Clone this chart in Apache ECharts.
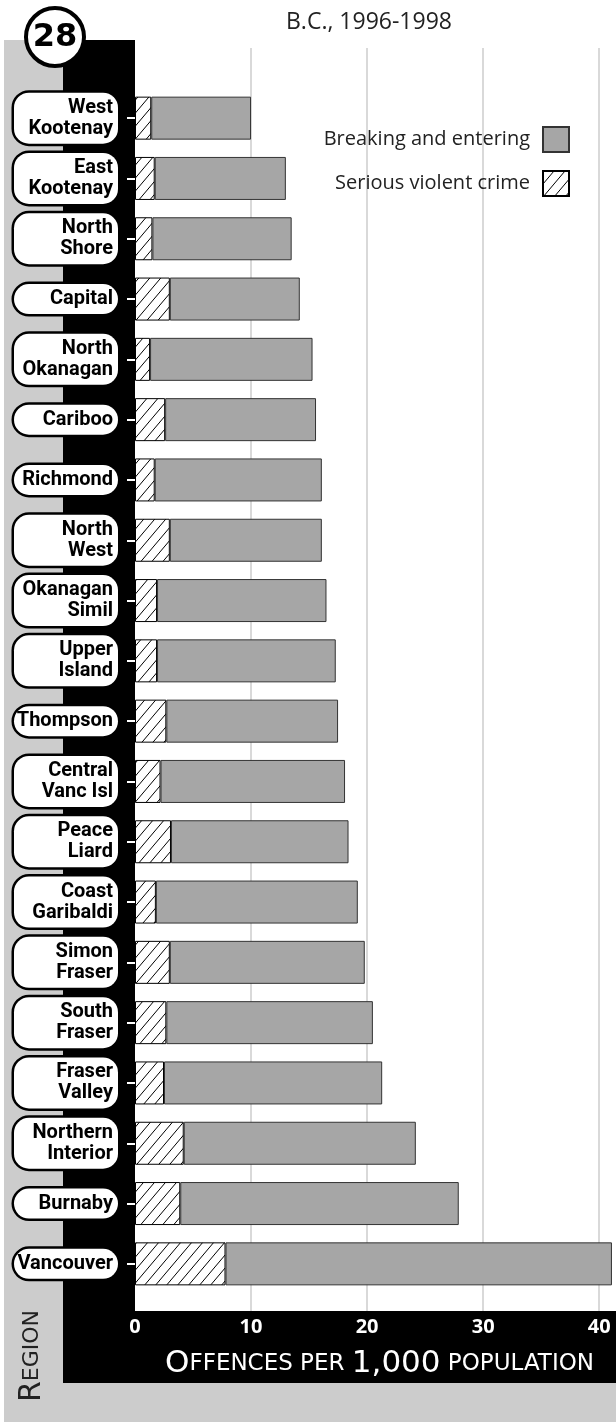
<!DOCTYPE html>
<html>
<head>
<meta charset="utf-8">
<script src="https://cdn.jsdelivr.net/npm/echarts@6/dist/echarts.min.js"></script>
<style>
html,body{margin:0;padding:0;background:#fff;}
#chart{width:616px;height:1426px;}
</style>
</head>
<body>
<div id="chart"></div>
<script>
// ---- data ----
const regions = ["West\nKootenay", "East\nKootenay", "North\nShore", "Capital", "North\nOkanagan", "Cariboo", "Richmond", "North\nWest", "Okanagan\nSimil", "Upper\nIsland", "Thompson", "Central\nVanc Isl", "Peace\nLiard", "Coast\nGaribaldi", "Simon\nFraser", "South\nFraser", "Fraser\nValley", "Northern\nInterior", "Burnaby", "Vancouver"];
const seriousViolent = [1.4, 1.7, 1.5, 3.0, 1.3, 2.6, 1.7, 3.0, 1.9, 1.9, 2.7, 2.2, 3.1, 1.8, 3.0, 2.7, 2.5, 4.2, 3.9, 7.8];
const breakingEntering = [8.6, 11.3, 12.0, 11.2, 14.0, 13.0, 14.4, 13.1, 14.6, 15.4, 14.8, 15.9, 15.3, 17.4, 16.8, 17.8, 18.8, 20.0, 24.0, 33.3];
const xTicks = [0, 10, 20, 30, 40];
const seriesNames = ["Breaking and entering", "Serious violent crime"];
const titleText = "B.C., 1996-1998";
const badgeText = "28";

// ---- hatch pattern ----
function hatch(w, h, lw) {
  const c = document.createElement('canvas');
  c.width = w; c.height = h;
  const ctx = c.getContext('2d');
  ctx.fillStyle = '#fff';
  ctx.fillRect(0, 0, w, h);
  ctx.strokeStyle = '#000';
  ctx.lineWidth = lw;
  [[0,0],[w,0],[-w,0],[0,h],[0,-h]].forEach(function (d) {
    ctx.beginPath();
    ctx.moveTo(d[0], h + d[1]);
    ctx.lineTo(w + d[0], d[1]);
    ctx.stroke();
  });
  return c;
}
const hatchColor = { image: hatch(11, 13, 1), repeat: 'repeat' };

const XMAX = 41.45;
const chart = echarts.init(document.getElementById('chart'), null, { renderer: 'canvas' });

chart.setOption({
  animation: false,
  backgroundColor: '#fff',
  title: {
    text: titleText,
    left: 281, top: 6,
    textStyle: { fontFamily: 'Open Sans', fontSize: 23, fontWeight: 'normal', color: '#222' }
  },
  legend: {
    orient: 'vertical',
    right: 46, top: 126,
    padding: 0,
    align: 'right',
    icon: 'rect',
    itemWidth: 26, itemHeight: 25, itemGap: 17,
    data: seriesNames,
    textStyle: { fontFamily: 'Open Sans', fontSize: 20, color: '#222', padding: [0, 8, 0, 0] }
  },
  grid: [
    { left: 135, top: 88, width: 481, height: 1206, containLabel: false },
    { left: 135, top: 48, width: 481, height: 1263, containLabel: false }
  ],
  xAxis: [
    { type: 'value', gridIndex: 0, min: 0, max: XMAX, interval: 10, show: false },
    {
      type: 'value', gridIndex: 1, min: 0, max: XMAX, interval: 10,
      axisLine: { show: false }, axisTick: { show: false },
      splitLine: { show: true, showMinLine: false, showMaxLine: false, lineStyle: { color: '#d9d9d9', width: 2 } },
      axisLabel: {
        showMaxLabel: false, margin: 6,
        color: '#fff', fontFamily: 'Open Sans', fontWeight: 'bold', fontSize: 20,
        formatter: function (v) { return xTicks.indexOf(v) >= 0 ? String(v) : ''; }
      },
      name: '{b|O}{s|FFENCES PER }{b|1,000}{s| POPULATION}',
      nameLocation: 'middle',
      nameGap: 53,
      nameTextStyle: {
        verticalAlign: 'middle',
        color: '#fff',
        padding: [0, 0, 0, 8],
        rich: {
          b: { fontFamily: 'DejaVu Sans', fontSize: 31, fontWeight: 'normal', color: '#fff' },
          s: { fontFamily: 'DejaVu Sans', fontSize: 23, fontWeight: 'normal', color: '#fff' }
        }
      }
    }
  ],
  yAxis: [
    {
      type: 'category', gridIndex: 0, data: regions, inverse: true,
      axisLine: { show: false },
      axisTick: { show: true, length: 8, alignWithLabel: true, lineStyle: { color: '#fff', width: 2 } },
      axisLabel: {
        margin: 17,
        align: 'right',
        width: 96,
        overflow: 'none',
        backgroundColor: '#fff',
        borderColor: '#000',
        borderWidth: 2.5,
        borderRadius: 15,
        padding: [5, 5, 4, 3],
        fontFamily: 'Roboto', fontWeight: 'bold', fontSize: 20, lineHeight: 21, color: '#000'
      }
    },
    { type: 'value', gridIndex: 1, show: false, min: 0, max: 1 }
  ],
  series: [
    {
      name: seriesNames[1], type: 'bar', stack: 'total', xAxisIndex: 0, yAxisIndex: 0,
      barWidth: 43,
      data: seriousViolent,
      itemStyle: { color: hatchColor, borderColor: '#000', borderWidth: 1 },
      emphasis: { disabled: true }
    },
    {
      name: seriesNames[0], type: 'bar', stack: 'total', xAxisIndex: 0, yAxisIndex: 0,
      barWidth: 43,
      data: breakingEntering,
      itemStyle: { color: '#a6a6a6', borderColor: '#333', borderWidth: 1 },
      emphasis: { disabled: true }
    }
  ],
  graphic: [
    { type: 'rect', z: -10, silent: true, shape: { x: 4, y: 40, width: 612, height: 1382 }, style: { fill: '#cccccc' } },
    { type: 'rect', z: -9, silent: true, shape: { x: 63, y: 40, width: 553, height: 1343 }, style: { fill: '#000' } },
    { type: 'rect', z: -8, silent: true, shape: { x: 135, y: 0, width: 481, height: 1311 }, style: { fill: '#fff' } },
    { type: 'circle', z: 100, silent: true, shape: { cx: 55, cy: 37, r: 29 }, style: { fill: '#fff', stroke: '#000', lineWidth: 4 } },
    { type: 'text', z: 101, silent: true, x: 55, y: 38,
      style: { text: badgeText, fontFamily: 'DejaVu Sans', fontWeight: 'bold', fontSize: 32, fill: '#000', align: 'center', verticalAlign: 'middle' } },
    { type: 'text', z: 101, silent: true, x: 32, y: 1356, rotation: Math.PI / 2,
      style: {
        text: '{b|R}{s|EGION}', align: 'center', verticalAlign: 'middle', fill: '#222',
        rich: {
          b: { fontFamily: 'DejaVu Sans', fontSize: 30, fontWeight: 'normal', fill: '#222' },
          s: { fontFamily: 'DejaVu Sans', fontSize: 22, fontWeight: 'normal', fill: '#222' }
        }
      } }
  ]
});
</script>
</body>
</html>
